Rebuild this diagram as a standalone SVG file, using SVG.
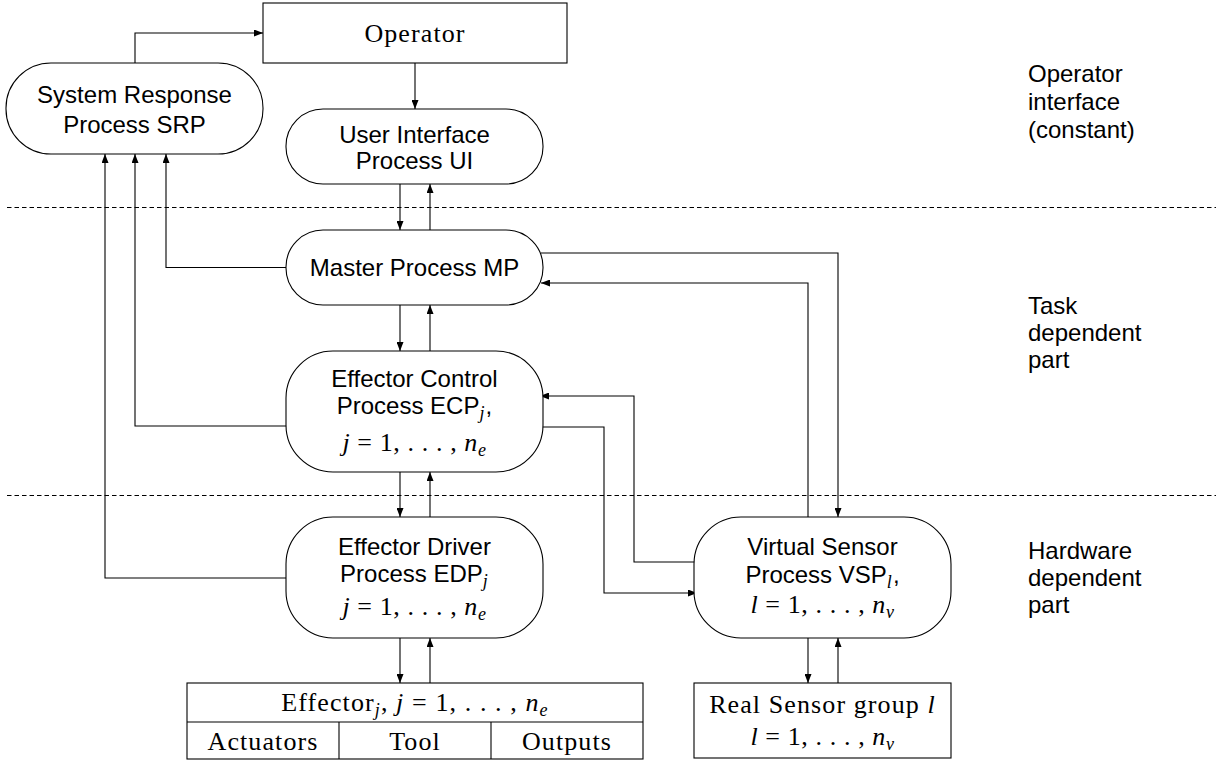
<svg xmlns="http://www.w3.org/2000/svg" width="1216" height="762" viewBox="0 0 1216 762">
<defs>
<marker id="ah" markerWidth="10" markerHeight="7" refX="9" refY="3.5" orient="auto" markerUnits="userSpaceOnUse">
<path d="M0,0 L9,3.5 L0,7 z" fill="#000"/>
</marker>
</defs>
<style>
.box{fill:#fff;stroke:#000;stroke-width:1.1}
.s{font-family:"Liberation Sans",Arial,sans-serif;font-size:24px;fill:#000}
.r{font-family:"Liberation Serif","Times New Roman",serif;font-size:26px;fill:#000;letter-spacing:1.1px}
.m{letter-spacing:0.6px}
.i{font-style:italic}
.sub{font-size:18px}
.c{text-anchor:middle}
.ln{fill:none;stroke:#000;stroke-width:1.1}
.ar{fill:none;stroke:#000;stroke-width:1.1;marker-end:url(#ah)}
.dash{stroke:#000;stroke-width:1;stroke-dasharray:4.5,3}
</style>
<rect width="1216" height="762" fill="#fff"/>

<g id="separators">
<line class="dash" x1="7" y1="207.5" x2="1216" y2="207.5"/>
<line class="dash" x1="7" y1="495.5" x2="1216" y2="495.5"/>
</g>

<g id="connectors">
<path class="ar" d="M135,63 V33 H263"/>
<path class="ar" d="M415,63 V109"/>
<path class="ar" d="M400,184 V230"/>
<path class="ar" d="M430,230 V184"/>
<path class="ar" d="M400,305 V351"/>
<path class="ar" d="M430,351 V305"/>
<path class="ar" d="M400,472 V517"/>
<path class="ar" d="M430,517 V472"/>
<path class="ar" d="M400,638 V683"/>
<path class="ar" d="M430,683 V638"/>
<path class="ar" d="M286,267.5 H166 V154"/>
<path class="ar" d="M289,426 H135 V154"/>
<path class="ar" d="M286,578 H105 V154"/>
<path class="ar" d="M541,253 H838 V517"/>
<path class="ar" d="M808,517 V283 H541"/>
<path class="ar" d="M697,562 H634 V396 H540"/>
<path class="ar" d="M540,427 H604 V593 H697"/>
<path class="ar" d="M808,638 V683"/>
<path class="ar" d="M838,683 V638"/>
</g>

<g id="operator">
<rect class="box" x="263" y="3" width="304" height="60"/>
<text class="r c" x="415" y="42">Operator</text>
</g>

<g id="srp">
<rect class="box" x="6" y="63" width="257" height="91" rx="45" ry="45"/>
<text class="s c" x="134.5" y="103">System Response</text>
<text class="s c" x="134.5" y="133">Process SRP</text>
</g>

<g id="ui">
<rect class="box" x="286" y="109" width="257" height="75" rx="37" ry="37"/>
<text class="s c" x="414.5" y="143">User Interface</text>
<text class="s c" x="414.5" y="169">Process UI</text>
</g>

<g id="mp">
<rect class="box" x="286" y="230" width="257" height="75" rx="37" ry="37"/>
<text class="s c" x="414.5" y="276">Master Process MP</text>
</g>

<g id="ecp">
<rect class="box" x="286" y="351" width="257" height="121" rx="47" ry="47"/>
<text class="s c" x="414.5" y="387">Effector Control</text>
<text class="s c" x="414.5" y="414">Process ECP<tspan class="r i sub" dy="5">j</tspan><tspan dy="-5">,</tspan></text>
<text class="r m c" x="414.5" y="451"><tspan class="i">j</tspan> = 1, . . . , <tspan class="i">n</tspan><tspan class="i sub" dy="5">e</tspan></text>
</g>

<g id="edp">
<rect class="box" x="286" y="517" width="257" height="121" rx="47" ry="47"/>
<text class="s c" x="414.5" y="555">Effector Driver</text>
<text class="s c" x="414.5" y="582">Process EDP<tspan class="r i sub" dy="5">j</tspan></text>
<text class="r m c" x="414.5" y="615"><tspan class="i">j</tspan> = 1, . . . , <tspan class="i">n</tspan><tspan class="i sub" dy="5">e</tspan></text>
</g>

<g id="vsp">
<rect class="box" x="694" y="517" width="257" height="121" rx="47" ry="47"/>
<text class="s c" x="822.5" y="555">Virtual Sensor</text>
<text class="s c" x="822.5" y="583">Process VSP<tspan class="r i sub" dy="5">l</tspan><tspan dy="-5">,</tspan></text>
<text class="r m c" x="822.5" y="613"><tspan class="i">l</tspan> = 1, . . . , <tspan class="i">n</tspan><tspan class="i sub" dy="5">v</tspan></text>
</g>

<g id="effector">
<rect class="box" x="187" y="683" width="456" height="76"/>
<line class="ln" x1="187" y1="722" x2="643" y2="722"/>
<line class="ln" x1="339" y1="722" x2="339" y2="759"/>
<line class="ln" x1="491" y1="722" x2="491" y2="759"/>
<text class="r c" x="415" y="711">Effector<tspan class="i sub" dy="5">j</tspan><tspan dy="-5">, </tspan><tspan class="i">j</tspan> = 1, . . . , <tspan class="i">n</tspan><tspan class="i sub" dy="5">e</tspan></text>
<text class="r c" x="263" y="750">Actuators</text>
<text class="r c" x="415" y="750">Tool</text>
<text class="r c" x="567" y="750">Outputs</text>
</g>

<g id="rsg">
<rect class="box" x="694" y="683" width="257" height="75"/>
<text class="r c" x="822.5" y="713">Real Sensor group <tspan class="i">l</tspan></text>
<text class="r m c" x="822.5" y="745"><tspan class="i">l</tspan> = 1, . . . , <tspan class="i">n</tspan><tspan class="i sub" dy="5">v</tspan></text>
</g>

<g id="labels">
<text class="s" x="1028" y="82">Operator</text>
<text class="s" x="1028" y="110">interface</text>
<text class="s" x="1028" y="138">(constant)</text>
<text class="s" x="1028" y="314">Task</text>
<text class="s" x="1028" y="341">dependent</text>
<text class="s" x="1028" y="368">part</text>
<text class="s" x="1028" y="559">Hardware</text>
<text class="s" x="1028" y="586">dependent</text>
<text class="s" x="1028" y="613">part</text>
</g>
</svg>
